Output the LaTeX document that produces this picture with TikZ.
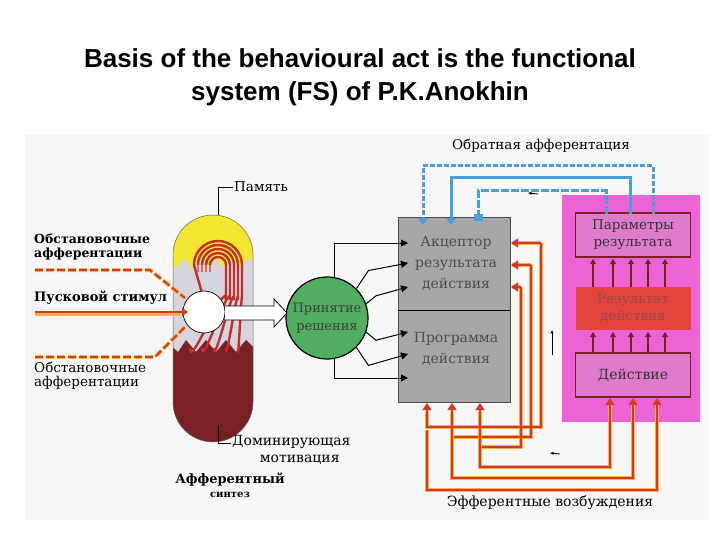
\documentclass[tikz,border=0pt]{standalone}
\usepackage{fontspec}
\setmainfont{DejaVu Serif}
\newfontfamily\titlefont{Liberation Sans}
\usetikzlibrary{arrows.meta}
\definecolor{maroon}{HTML}{7A1F22}
\definecolor{capyel}{HTML}{F2E62E}
\definecolor{midgrey}{HTML}{D7D4DE}
\definecolor{boxgrey}{HTML}{A9A6AA}
\definecolor{pinkbg}{HTML}{EC63D6}
\definecolor{parbox}{HTML}{E07ACB}
\definecolor{resred}{HTML}{E5443C}
\definecolor{grn}{HTML}{4FAE60}
\definecolor{blu}{HTML}{4A9FD8}
\definecolor{effred}{HTML}{D23A22}
\definecolor{effyel}{HTML}{F6B04A}
\definecolor{arcred}{HTML}{C0302C}
\tikzset{
  lbl/.style={font=\fontsize{13.5}{13}\selectfont, inner sep=1pt, align=center},
  lead/.style={draw=black, line width=0.8pt},
  conn/.style={line width=1pt, -{Triangle[length=7pt,width=7pt]}},
  eff/.style={line width=3.2pt, draw=effyel},
  effin/.style={line width=1.5pt, draw=effred},
  blue/.style={line width=3pt, draw=blu},
  upar/.style={line width=2.5pt, draw=maroon, -{Triangle[length=5pt,width=6pt]}},
  boxtxt/.style={font=\fontsize{14}{21}\selectfont, align=center, text=black!70}
}
\begin{document}
\begin{tikzpicture}[x=1pt,y=-1pt]
\useasboundingbox (0,0) rectangle (720,540);
\fill[white] (0,0) rectangle (720,540);
\fill[black!3] (25,135) rectangle (710,520);
% title
\node[font=\titlefont\bfseries\fontsize{26}{33}\selectfont, align=center] (title) at (360,77)
 {Basis of the behavioural act is the functional\\system (FS) of P.K.Anokhin};

% capsule
\begin{scope}
\clip (173,255) arc[start angle=180,end angle=360,radius=40] -- (253,402) arc[start angle=0,end angle=180,radius=40] -- cycle;
\fill[midgrey] (170,210) rectangle (256,445);
\fill[capyel] (170,210) -- (256,210) -- (256,265) -- (248,258) -- (240,268) -- (232,258) -- (224,268) -- (216,258) -- (208,268) -- (200,258) -- (192,268) -- (184,258) -- (176,268) -- (170,262) -- cycle;
\fill[maroon] (170,445) -- (170,345) -- (178,352) -- (186,340) -- (196,352) -- (206,340) -- (216,352) -- (226,340) -- (236,352) -- (246,340) -- (256,350) -- (256,445) -- cycle;
\end{scope}
\draw[black!60, line width=0.5pt] (173,255) arc[start angle=180,end angle=360,radius=40] -- (253,402) arc[start angle=0,end angle=180,radius=40] -- cycle;
% memory arcs
\foreach \r [evaluate=\r as \tx using 190+(\r-8)*3] in {24,20,16,12,8} {
  \draw[arcred, line width=2.4pt] (218-\r,265) arc[start angle=180,end angle=360,radius=\r] -- (218+\r,300) to[out=90,in=-90] (\tx,348);
}
\draw[arcred, line width=2.4pt, -{Triangle[length=6pt,width=7pt]}] (218-24,265) -- (204,300);
\foreach \r in {20,16,12,8} \draw[arcred!70, line width=2.4pt] (218-\r,265) -- (218-\r,272);
% white circle
\node[circle, draw=black, line width=0.7pt, fill=white, minimum size=42pt, inner sep=0] (wc) at (204,312) {};
% inputs
\draw[effyel, line width=4pt, dash pattern=on 8pt off 3pt] (35,270) -- (150,270) -- (185,298);
\draw[effred, line width=1.8pt, dash pattern=on 8pt off 3pt] (35,270) -- (150,270) -- (185,298);
\draw[effyel, line width=5pt] (35,313) -- (180,313);
\draw[effred, line width=2.8pt, -{Triangle[length=6pt,width=8pt]}] (35,312) -- (188,312);
\draw[effyel, line width=4pt, dash pattern=on 8pt off 3pt] (35,357) -- (155,357) -- (185,327);
\draw[effred, line width=1.8pt, dash pattern=on 8pt off 3pt] (35,357) -- (155,357) -- (185,327);
\node[lbl, anchor=west, align=left, font=\bfseries\fontsize{12.5}{14}\selectfont] (ob1) at (33,247) {Обстановочные\\афферентации};
\node[lbl, anchor=west, font=\bfseries\fontsize{13}{13}\selectfont] (pusk) at (33,298) {Пусковой стимул};
\node[lbl, anchor=west, align=left, font=\fontsize{13.5}{14}\selectfont] (ob2) at (33,376) {Обстановочные\\афферентации};
% memory label
\node[lbl, anchor=west] (mem) at (233,187) {Память};
\draw[lead] (218,215) -- (218,187) -- (mem.west);
\node[lbl, anchor=west, align=center, font=\fontsize{14}{17}\selectfont] (mot) at (231,450) {Доминирующая\\\hspace*{1.2em}мотивация};
\draw[lead] (218,425) -- (218,443) -- (231,443);
\node[lbl, font=\bfseries\fontsize{13}{14}\selectfont] (syn) at (230,485) {Афферентный\\{\fontsize{10}{10}\selectfont синтез}};

% green circle
\node[circle, draw=black, line width=1.2pt, fill=grn, minimum size=82pt, inner sep=0, font=\fontsize{13}{18}\selectfont, align=center, text=black!75] (dec) at (327,318) {Принятие\\решения};
\draw[black, line width=0.8pt, fill=white] (225,306) -- (274,306) -- (274,299) -- (287,313) -- (274,327) -- (274,320) -- (225,320);

% grey box
\node[draw=black!70, fill=boxgrey, minimum width=112pt, minimum height=185pt, inner sep=0] (acc) at (454,310) {};
\draw[black, line width=1pt] (398,310) -- (510,310);
\node[boxtxt] (acct) at (456,263) {Акцептор\\результата\\действия};
\node[boxtxt] (prt) at (456,349) {Программа\\действия};
% connectors green->grey
\draw[conn] (dec.80) |- (408,243);
\draw[conn] (dec.45) -- ++(12,-18) -- (408,263);
\draw[conn] (dec.20) -- ++(10,-8) -- (408,287);
\draw[conn] (dec.-20) -- ++(10,8) -- (408,332);
\draw[conn] (dec.-45) -- ++(12,18) -- (408,354);
\draw[conn] (dec.-80) |- (408,378);

% pink panel
\fill[pinkbg] (562,195) rectangle (700,422);
\node[draw=maroon, line width=1.6pt, fill=parbox, minimum width=115pt, minimum height=44pt, boxtxt, font=\fontsize{13.5}{17}\selectfont, text=black!80] (par) at (633,235) {Параметры\\результата};
\node[fill=resred, minimum width=115pt, minimum height=43pt, boxtxt, font=\fontsize{13.5}{17}\selectfont, text=maroon!80] (res) at (633,308) {Результат\\действия};
\node[draw=maroon, line width=1.6pt, fill=parbox, minimum width=115pt, minimum height=44pt, boxtxt, font=\fontsize{14}{17}\selectfont, text=black!80] (act) at (633,375) {Действие};
\foreach \x in {593,613,631,648,665} {
  \draw[upar] (\x,287) -- (\x,259);
  \draw[upar] (\x,353) -- (\x,332);
}
% blue feedback
\draw[blu, line width=3pt, dash pattern=on 5pt off 2pt, -{Triangle[length=7pt,width=10pt]}] (653,214) -- (653,166) -- (423,166) -- (423,225);
\draw[blue, -{Triangle[length=7pt,width=10pt]}] (630,214) -- (630,178) -- (451,178) -- (451,225);
\draw[blu, line width=3pt, dash pattern=on 8pt off 2pt, -{Square[length=7pt,width=9pt]}] (606,214) -- (606,191) -- (478,191) -- (478,221);
\draw[black, line width=0.8pt, -{Stealth[length=4pt]}] (538,194) -- (528,193);
\node[lbl] (oaff) at (541,146) {Обратная афферентация};

% efferent loops
\foreach \y/\x/\yy/\bx in {243/541/427/427, 265/531/437/452, 287/521/447/480} {
  \draw[eff] (\x,\y) -- (512,\y);
  \draw[eff] (\x,\y) -- (\x,\yy) -- (\bx,\yy) -- (\bx,412);
}
\foreach \y/\x/\yy/\bx in {243/541/427/427, 265/531/437/452, 287/521/447/480} {
  \draw[effin, -{Triangle[length=7pt,width=9pt]}] (\x,\y) -- (511,\y);
  \draw[effin, -{Triangle[length=7pt,width=9pt]}] (\x,\y) -- (\x,\yy) -- (\bx,\yy) -- (\bx,403);
}
\foreach \bx/\yy/\rx in {427/490/657, 452/478/633, 480/467/610} {
  \draw[eff] (\bx,430) -- (\bx,\yy) -- (\rx,\yy) -- (\rx,405);
}
\foreach \bx/\yy/\rx in {427/490/657, 452/478/633, 480/467/610} {
  \draw[effin, -{Triangle[length=7pt,width=9pt]}] (\bx,430) -- (\bx,\yy) -- (\rx,\yy) -- (\rx,398);
}
\draw[black, line width=0.8pt, -{Stealth[length=4pt]}] (560,454) -- (550,453);
\draw[black, line width=0.8pt, -{Stealth[length=4pt]}] (552,355) -- (552,330);
\node[lbl, font=\fontsize{14}{14}\selectfont] (eff) at (550,503) {Эфферентные возбуждения};
\end{tikzpicture}
\end{document}
